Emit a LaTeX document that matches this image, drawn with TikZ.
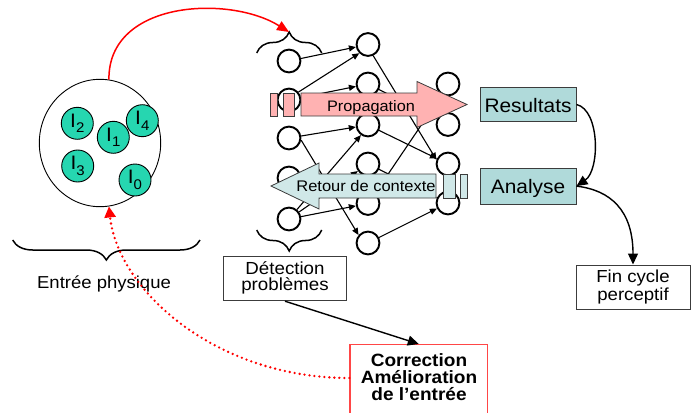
\documentclass[tikz,border=0pt]{standalone}
\usepackage{fontspec}
\setmainfont{Liberation Sans}[FakeStretch=1.07]
\usetikzlibrary{arrows.meta,decorations.pathreplacing,calc,shapes.geometric}
\definecolor{tealI}{RGB}{38,214,176}
\definecolor{boxfill}{RGB}{176,218,218}
\definecolor{retfill}{RGB}{208,232,232}
\definecolor{pinkfill}{RGB}{255,178,178}
\definecolor{bordergray}{RGB}{60,60,60}
\definecolor{corrred}{RGB}{255,70,70}
\newcommand{\isub}[1]{I\raisebox{-5.5pt}{\fontsize{14}{14}\selectfont #1}}
\begin{document}
\begin{tikzpicture}[x=1pt,y=-1pt,
  neuron/.style={circle,draw,line width=1.9pt,minimum size=22.8pt,inner sep=0pt},
  edge/.style={line width=1.1pt,-{Triangle[length=7pt,width=6pt]}},
  plainedge/.style={line width=1.1pt},
  inode/.style={circle,draw,line width=0.9pt,fill=tealI,minimum size=32pt,inner sep=0pt,font=\fontsize{19.5}{19.5}\selectfont},
  bigarrow/.style={line width=1.4pt,-{Triangle[length=11pt,width=10pt]}},
  bracestyle/.style={line width=1.5pt,decorate},
  bandarrow/.style={draw=bordergray,line width=0.8pt},
  tealbox/.style={draw=bordergray,line width=1pt,fill=boxfill,inner sep=0pt,font=\fontsize{19.5}{20}\selectfont},
  whitebox/.style={draw=bordergray,line width=1pt,inner sep=0pt,align=center},
]
\useasboundingbox (0,0) rectangle (692,412);

% ---- physical input ----
\node[draw,ellipse,line width=0.9pt,minimum width=121.4pt,minimum height=127.4pt,inner sep=0pt] (input) at (100,143) {};
\node[inode] (i2) at (77.3,123.3) {\isub{2}};
\node[inode] (i1) at (113.3,137.3) {\isub{1}};
\node[inode] (i4) at (142.3,120.7) {\isub{4}};
\node[inode] (i3) at (77.7,166) {\isub{3}};
\node[inode] (i0) at (135,180) {\isub{0}};
\draw[bracestyle,decoration={brace,amplitude=20pt}] (200,240) -- (12.7,240);
\node[anchor=base,font=\fontsize{17.3}{18}\selectfont] (entree) at (104,288.5) {Entrée physique};

% ---- network ----
\foreach \n/\y in {1/61,2/100,3/138,4/178,5/219} \node[neuron] (L\n) at (289,\y) {};
\foreach \n/\y in {1/44.5,2/84,3/125,4/164,5/203.5,6/243} \node[neuron] (M\n) at (368,\y) {};
\foreach \n/\y in {1/84,2/124.5,3/164,4/203} \node[neuron] (R\n) at (448,\y) {};

\draw[edge] (L1) -- (M1);
\draw[edge] (L2.40) -- (M1.225);
\draw[edge] (L2) -- (M2);
\draw[edge] (L3) -- (M3);
\draw[edge] (L3.-10) -- (M6.140);
\draw[edge] (L5.50) -- (M3.235);
\draw[edge] (L5) -- (M4);
\draw[edge] (L5) -- (M5);
\draw[edge] (M1.-65) -- (R3.160);
\draw[edge] (M2) -- (R2);
\draw[edge] (M3) -- (R3);
\draw[edge] (M4) -- (R4);
\draw[edge] (M6) -- (R4);
\draw[plainedge] (M5.55) -- (R1.240);

\coordinate (toptip) at (289,32);
\draw[bracestyle,decoration={brace,amplitude=21pt}] (256.7,53) -- (321.7,53);
\draw[bracestyle,decoration={brace,amplitude=21pt}] (321.7,230) -- (256.7,230);

% ---- Propagation arrow ----
\draw[bandarrow,fill=pinkfill] (270,93) rectangle (277,116);
\draw[bandarrow,fill=pinkfill] (283,93) rectangle (294,116);
\draw[bandarrow,fill=pinkfill] (301,93) -- (417,93) -- (417,81.5) -- (467,104.5) -- (417,127.5) -- (417,116) -- (301,116) -- cycle;
\node[anchor=base,font=\fontsize{15.2}{16}\selectfont] (prop) at (371,111.7) {Propagation};

% ---- Retour arrow ----
\draw[bandarrow,fill=retfill] (271,186) -- (319,163) -- (319,174) -- (436,174) -- (436,198) -- (319,198) -- (319,209) -- cycle;
\draw[bandarrow,fill=retfill] (443,174) rectangle (455,198);
\draw[bandarrow,fill=retfill] (460,174) rectangle (467,198);
\node[anchor=base,font=\fontsize{15.4}{16}\selectfont] (retour) at (366,191.7) {Retour de contexte};

% ---- result boxes ----
\node[tealbox,text height=25pt,text depth=9.4pt,minimum width=96pt,anchor=base] (res) at (528,112.3) {Resultats};
\node[tealbox,text height=25pt,text depth=10.7pt,minimum width=96pt,anchor=base] (ana) at (528,193.3) {Analyse};
\node[whitebox,minimum width=114pt,minimum height=44pt,font=\fontsize{17.4}{15}\selectfont] (fin) at (633,287) {Fin cycle\\perceptif};
\node[whitebox,minimum width=123.4pt,minimum height=44.7pt,font=\fontsize{17.5}{16}\selectfont] (det) at (285,278.35) {Détection\\problèmes};

\node[draw=corrred,line width=1.2pt,minimum width=137.7pt,minimum height=80pt,anchor=north] (corr) at (418.8,344) {};
\node[align=center,font=\fontsize{17.8}{16.7}\selectfont\bfseries] (corrtext) at (419,377) {Correction\\Amélioration\\de l’entrée};

% ---- connectors ----
\draw[bigarrow] (res.east) .. controls (600,110) and (600,170) .. (ana.east);
\draw[bigarrow] (ana.east) .. controls (610,190) and (633,210) .. (fin.north);
\draw[bigarrow] (det.south) -- (corr.north);
\draw[red,line width=1.5pt,-{Triangle[length=12pt,width=10pt]}] (input.82) .. controls (108,0) and (230,-5) .. (toptip);
\draw[red,line width=2.6pt,line cap=round,dash pattern=on 0pt off 5pt,-{Triangle[length=11pt,width=11pt]}] ($(corr.north west)+(0,34)$) .. controls (215,378) and (118,290) .. (input.-82);
\end{tikzpicture}
\end{document}
